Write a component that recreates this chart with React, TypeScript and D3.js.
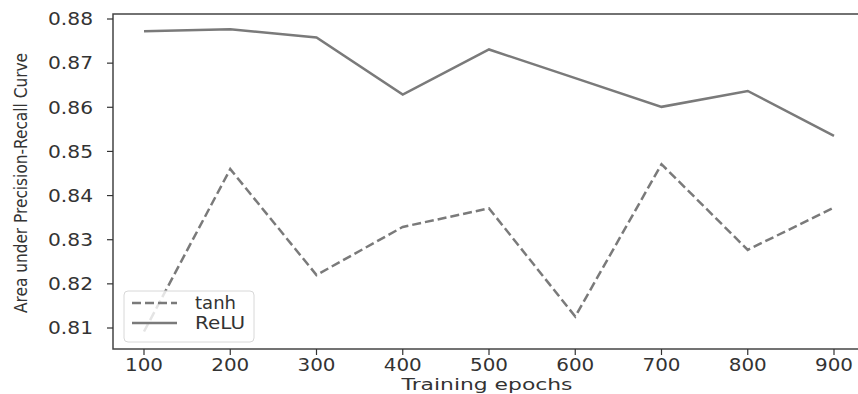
import React, { useRef, useEffect } from "react";
import * as d3 from "d3";

const epochs = [100, 200, 300, 400, 500, 600, 700, 800, 900];
const tanhValues = [0.8092, 0.846, 0.822, 0.8329, 0.8371, 0.8126, 0.8471, 0.8277, 0.8373];
const reluValues = [0.8772, 0.8777, 0.8758, 0.8629, 0.8731, 0.8666, 0.8601, 0.8637, 0.8535];
const xTicks = [100, 200, 300, 400, 500, 600, 700, 800, 900];
const yTicks = [0.81, 0.82, 0.83, 0.84, 0.85, 0.86, 0.87, 0.88];

const W = 858;
const H = 394;

const App = () => {
  const svgRef = useRef<SVGSVGElement>(null);

  useEffect(() => {
    const svg = d3.select(svgRef.current);
    svg.selectAll("*").remove();

    const frame = { left: 113, top: 14, right: 859, bottom: 349 };
    const x = d3.scaleLinear().domain([100, 900]).range([144, 834]);
    const y = d3.scaleLinear().domain([0.81, 0.88]).range([328, 19]);
    const font = "DejaVu Sans, sans-serif";
    const lineColor = "#7a7a7a";

    svg.append("rect").attr("width", W).attr("height", H).attr("fill", "white");

    const line = d3
      .line<number>()
      .x((_, i) => x(epochs[i]))
      .y((d) => y(d));

    // Series
    svg
      .append("path")
      .datum(tanhValues)
      .attr("d", line)
      .attr("fill", "none")
      .attr("stroke", lineColor)
      .attr("stroke-width", 2.5)
      .attr("stroke-dasharray", "9,4");

    svg
      .append("path")
      .datum(reluValues)
      .attr("d", line)
      .attr("fill", "none")
      .attr("stroke", lineColor)
      .attr("stroke-width", 2.5);

    // Frame
    svg
      .append("rect")
      .attr("x", frame.left)
      .attr("y", frame.top)
      .attr("width", frame.right - frame.left)
      .attr("height", frame.bottom - frame.top)
      .attr("fill", "none")
      .attr("stroke", "#444")
      .attr("stroke-width", 1.5);

    // Y axis ticks
    const yAxis = svg.append("g");
    yTicks.forEach((t) => {
      yAxis
        .append("line")
        .attr("x1", frame.left - 6)
        .attr("x2", frame.left)
        .attr("y1", y(t))
        .attr("y2", y(t))
        .attr("stroke", "#333")
        .attr("stroke-width", 1.2);
      yAxis
        .append("text")
        .attr("x", 93)
        .attr("y", y(t))
        .attr("dy", "0.35em")
        .attr("text-anchor", "end")
        .attr("font-family", font)
        .attr("font-size", 18)
        .attr("fill", "#333")
        .attr("textLength", 45)
        .attr("lengthAdjust", "spacingAndGlyphs")
        .text(d3.format(".2f")(t));
    });

    // X axis ticks
    const xAxis = svg.append("g");
    xTicks.forEach((t) => {
      xAxis
        .append("line")
        .attr("x1", x(t))
        .attr("x2", x(t))
        .attr("y1", frame.bottom)
        .attr("y2", frame.bottom + 6)
        .attr("stroke", "#333")
        .attr("stroke-width", 1.2);
      xAxis
        .append("text")
        .attr("x", x(t))
        .attr("y", 371)
        .attr("text-anchor", "middle")
        .attr("font-family", font)
        .attr("font-size", 17)
        .attr("fill", "#333")
        .attr("textLength", 38)
        .attr("lengthAdjust", "spacingAndGlyphs")
        .text(t);
    });

    // Axis labels
    svg
      .append("text")
      .attr("x", 487)
      .attr("y", 390)
      .attr("text-anchor", "middle")
      .attr("font-family", font)
      .attr("font-size", 16)
      .attr("fill", "#333")
      .attr("textLength", 171)
      .attr("lengthAdjust", "spacingAndGlyphs")
      .text("Training epochs");

    svg
      .append("text")
      .attr("transform", "translate(27,183) rotate(-90)")
      .attr("text-anchor", "middle")
      .attr("font-family", "DejaVu Sans Condensed, DejaVu Sans, sans-serif")
      .attr("font-size", 18)
      .attr("fill", "#333")
      .attr("textLength", 260)
      .attr("lengthAdjust", "spacingAndGlyphs")
      .text("Area under Precision-Recall Curve");

    // Legend
    const legend = svg.append("g");
    legend
      .append("rect")
      .attr("x", 124)
      .attr("y", 291)
      .attr("width", 130)
      .attr("height", 51)
      .attr("rx", 4)
      .attr("fill", "white")
      .attr("fill-opacity", 0.8)
      .attr("stroke", "#d8d8d8")
      .attr("stroke-width", 1);

    const items = [
      { label: "tanh", dash: "9,4", yy: 303, len: 41 },
      { label: "ReLU", dash: null, yy: 323, len: 50 },
    ];
    items.forEach((it) => {
      legend
        .append("line")
        .attr("x1", 132)
        .attr("x2", 177)
        .attr("y1", it.yy)
        .attr("y2", it.yy)
        .attr("stroke", lineColor)
        .attr("stroke-width", 2.5)
        .attr("stroke-dasharray", it.dash);
      legend
        .append("text")
        .attr("x", 195)
        .attr("y", it.yy)
        .attr("dy", "0.35em")
        .attr("font-family", font)
        .attr("font-size", 18)
        .attr("fill", "#333")
        .attr("textLength", it.len)
        .attr("lengthAdjust", "spacingAndGlyphs")
        .text(it.label);
    });
  }, []);

  return (
    <svg
      ref={svgRef}
      width={W}
      height={H}
      style={{ position: "fixed", left: 0, top: 0, display: "block" }}
    />
  );
};

export default App;
